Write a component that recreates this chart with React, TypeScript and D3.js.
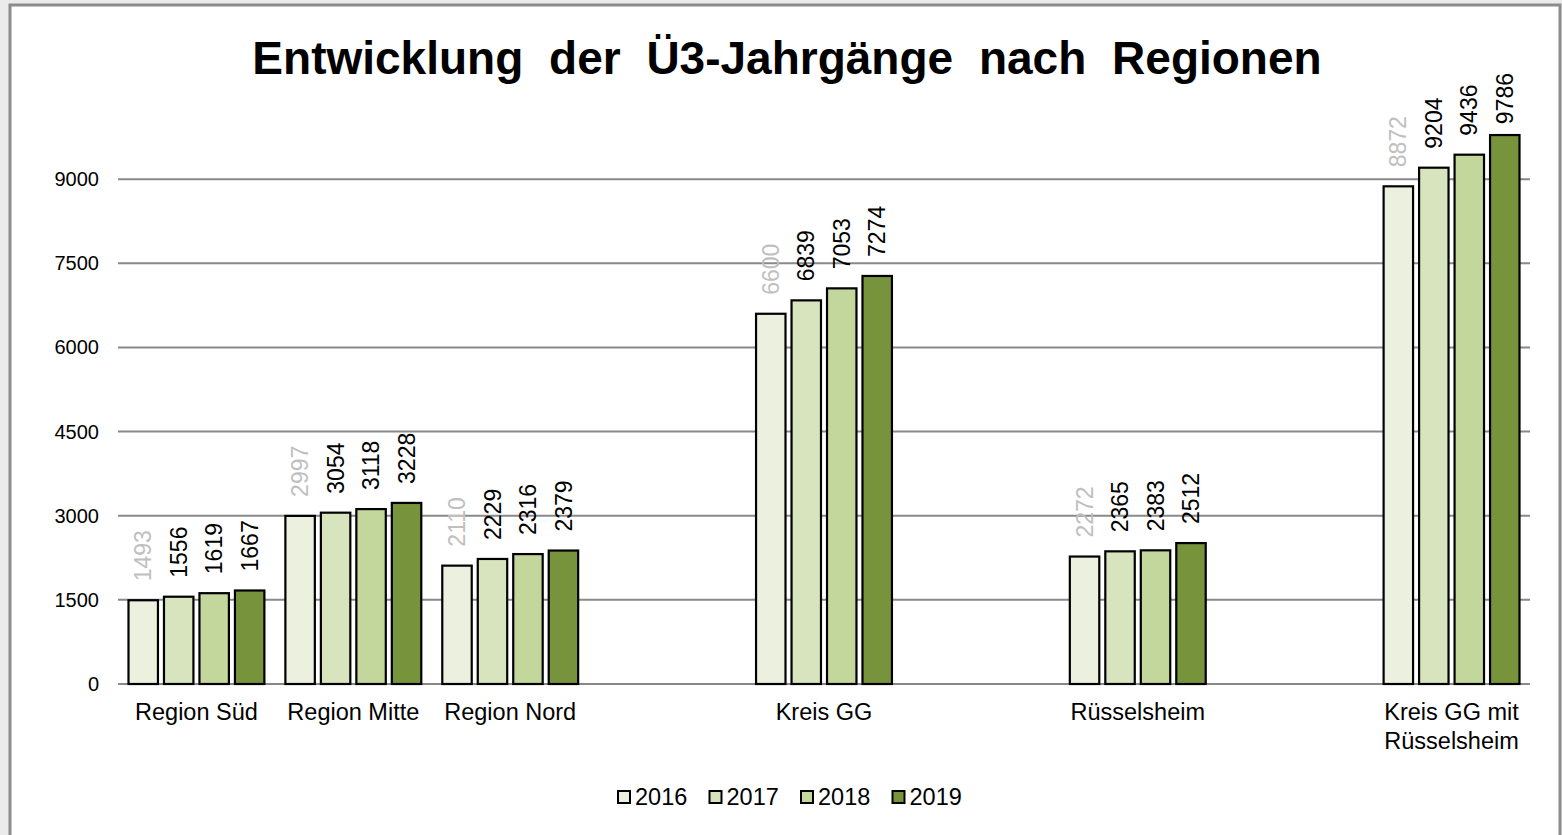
import React from "react";
import * as d3 from "d3";

// Ü3-Jahrgänge per region, 2016–2019
const slots = ["Region Süd", "Region Mitte", "Region Nord", "gap1", "Kreis GG", "gap2", "Rüsselsheim", "gap3", "Kreis GG mit Rüsselsheim"];
const categoryLabels: Record<string, string[]> = {
  "Region Süd": ["Region Süd"],
  "Region Mitte": ["Region Mitte"],
  "Region Nord": ["Region Nord"],
  "Kreis GG": ["Kreis GG"],
  "Rüsselsheim": ["Rüsselsheim"],
  "Kreis GG mit Rüsselsheim": ["Kreis GG mit", "Rüsselsheim"],
};
const years = ["2016", "2017", "2018", "2019"];
const colors = ["#ebf1de", "#d7e4bd", "#c3d69b", "#77933c"];
const labelColors = ["#bfbfbf", "#000", "#000", "#000"];

const values: Record<string, number[]> = {
  "Region Süd": [1493, 1556, 1619, 1667],
  "Region Mitte": [2997, 3054, 3118, 3228],
  "Region Nord": [2110, 2229, 2316, 2379],
  "Kreis GG": [6600, 6839, 7053, 7274],
  "Rüsselsheim": [2272, 2365, 2383, 2512],
  "Kreis GG mit Rüsselsheim": [8872, 9204, 9436, 9786],
};
const yTicks = [0, 1500, 3000, 4500, 6000, 7500, 9000];

const W = 1562;
const H = 835;
const font = "'Liberation Sans', Arial, sans-serif";
const labelSize = 23;
const labelGap = 19;
const labelTop = 73;

export default function App() {
  const x0 = d3.scaleBand().domain(slots).range([118, 1530]).padding(0);
  const bw = x0.bandwidth();
  const x1 = d3.scaleBand().domain(years).range([10.5, bw - 10.5]).paddingInner(0.17);
  const y = d3.scaleLinear().domain([0, 10500]).range([684, 95]);

  const groups = slots.filter((s) => values[s]);

  return (
    <svg width={W} height={H} style={{ position: "absolute", left: 0, top: 0, fontFamily: font }}>
      <rect x={0} y={0} width={W} height={H} fill="#ebebeb" />
      <rect x={10} y={5} width={1550} height={H} fill="#fff" stroke="#8c8c8c" strokeWidth={3} />

      <text x={787} y={74} textAnchor="middle" fontSize={46} fontWeight="bold" wordSpacing={13}>
        Entwicklung der Ü3-Jahrgänge nach Regionen
      </text>

      {yTicks.map((t) => (
        <g key={t}>
          <line x1={118} x2={1530} y1={y(t)} y2={y(t)} stroke="#898989" strokeWidth={2} />
          <text x={99} y={y(t)} dy="0.35em" textAnchor="end" fontSize={20} fill="#000">
            {t}
          </text>
        </g>
      ))}

      {groups.map((g) => (
        <g key={g} transform={`translate(${x0(g)},0)`}>
          {values[g].map((v, i) => {
            const bx = x1(years[i])!;
            const cx = bx + x1.bandwidth() / 2;
            const len = String(v).length * 0.556 * labelSize;
            // push labels down when they would leave the chart area
            const clamped = y(v) - labelGap - len < labelTop;
            const ly = clamped ? labelTop : y(v) - labelGap;
            return (
              <g key={i}>
                <rect x={bx} y={y(v)} width={x1.bandwidth()} height={y(0) - y(v)} fill={colors[i]} stroke="#000" strokeWidth={2.2} />
                <text
                  transform={`translate(${cx},${ly}) rotate(-90)`}
                  dy="0.35em"
                  textAnchor={clamped ? "end" : "start"}
                  fontSize={labelSize}
                  fill={labelColors[i]}
                >
                  {v}
                </text>
              </g>
            );
          })}
          {categoryLabels[g].map((line, j) => (
            <text key={j} x={bw / 2} y={720 + j * 29} textAnchor="middle" fontSize={23.5} fill="#000">
              {line}
            </text>
          ))}
        </g>
      ))}

      {years.map((yr, i) => (
        <g key={yr} transform={`translate(${618 + i * 91.5},797)`}>
          <rect x={0} y={-6} width={12} height={12} fill={colors[i]} stroke="#000" strokeWidth={2} />
          <text x={17} y={0} dy="0.35em" fontSize={23.5} fill="#000">
            {yr}
          </text>
        </g>
      ))}
    </svg>
  );
}
